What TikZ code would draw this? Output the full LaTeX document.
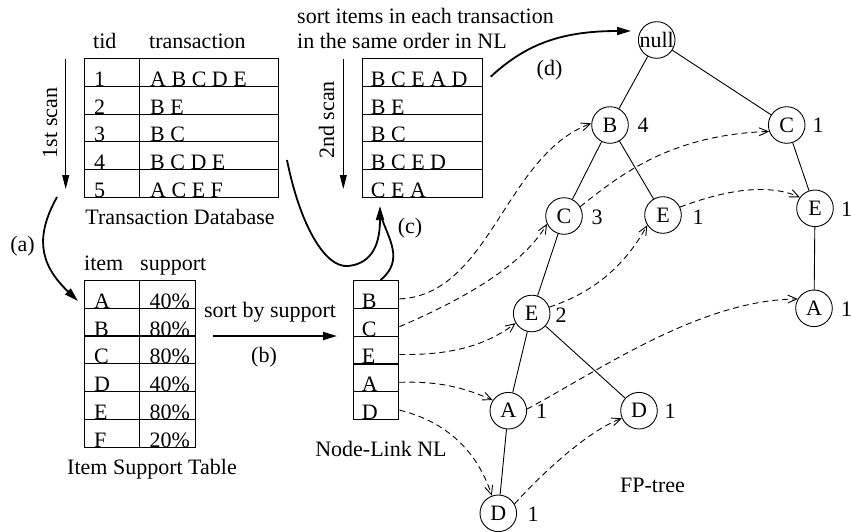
\documentclass[tikz,border=0pt]{standalone}
\usepackage{fontspec}
\setmainfont{Liberation Serif}
\usetikzlibrary{arrows.meta}
\tikzset{
  cell/.style={draw, rectangle, inner sep=0pt, minimum height=27.7pt, anchor=north west, line width=1.1pt},
  tn/.style={draw, circle, inner sep=0pt, minimum size=36.6pt, line width=0.9pt},
  edge/.style={line width=0.9pt},
  link/.style={line width=0.9pt, dash pattern=on 6pt off 4pt, -{Straight Barb[length=9pt,width=8pt]}},
  bigarrow/.style={line width=1.8pt, -{Triangle[length=14pt,width=8pt]}},
  scanarrow/.style={line width=0.9pt, -{Triangle[length=14pt,width=7pt]}},
}
\begin{document}
\begin{tikzpicture}[x=1pt,y=-1pt, every node/.append style={inner sep=0pt}, font=\fontsize{22}{26}\selectfont]
\useasboundingbox (0,0) rectangle (851,531);

% ---------- Transaction database ----------
\node[anchor=base west] (hd1) at (93,48) {tid};
\node[anchor=base west] (hd2) at (149,48) {transaction};
\foreach \a/\b [count=\i] in {1/A B C D E, 2/B E, 3/B C, 4/B C D E, 5/A C E F}{
  \node[cell, minimum width=55.3pt] (tdA\i) at (84,{58.3+27.68*(\i-1)}) {};
  \node[cell, minimum width=139pt] (tdB\i) at (139.3,{58.3+27.68*(\i-1)}) {};
  \node[anchor=base west] (tdAt\i) at ([xshift=10pt,yshift=0.5pt]tdA\i.south west) {\a};
  \node[anchor=base west] (tdBt\i) at ([xshift=10.7pt,yshift=0.5pt]tdB\i.south west) {\b};
}
\node[anchor=base] (tdcap) at (180,224) {Transaction Database};
\node[rotate=90] (scan1) at (50,123) {1st scan};
\coordinate (s1t) at (65.7,59);
\coordinate (s1b) at (65.7,189);
\draw[scanarrow] (s1t) -- (s1b);

% ---------- Sorted transactions ----------
\node[anchor=base west] (s1) at (297,23) {sort items in each transaction};
\node[anchor=base west] (s2) at (297,48) {in the same order in NL};
\foreach \b [count=\i] in {B C E A D, B E, B C, B C E D, C E A}{
  \node[cell, minimum width=120pt] (sd\i) at (361.7,{58.3+27.68*(\i-1)}) {};
  \node[anchor=base west] (sdt\i) at ([xshift=9pt,yshift=0.5pt]sd\i.south west) {\b};
}
\node[rotate=90] (scan2) at (326.7,120) {2nd scan};
\coordinate (s2t) at (343.3,59);
\coordinate (s2b) at (343.3,189);
\draw[scanarrow] (s2t) -- (s2b);

% ---------- Item support table ----------
\node[anchor=base west] (hi1) at (84,270) {item};
\node[anchor=base west] (hi2) at (140,270) {support};
\foreach \a/\b [count=\i] in {A/40\%, B/80\%, C/80\%, D/40\%, E/80\%, F/20\%}{
  \node[cell, minimum width=55.3pt] (itA\i) at (84,{280+27.78*(\i-1)}) {};
  \node[cell, minimum width=55.7pt] (itB\i) at (139.3,{280+27.78*(\i-1)}) {};
  \node[anchor=base west] (itAt\i) at ([xshift=10pt,yshift=0.5pt]itA\i.south west) {\a};
  \node[anchor=base west] (itBt\i) at ([xshift=10pt,yshift=0.5pt]itB\i.south west) {\b};
}
\node[anchor=base] (itcap) at (152,474) {Item Support Table};

% ---------- Node-Link NL ----------
\foreach \a [count=\i] in {B,C,E,A,D}{
  \node[cell, minimum width=45.6pt] (nl\i) at (352.7,{280+27.8*(\i-1)}) {};
  \node[anchor=base west] (nlt\i) at ([xshift=9pt,yshift=0.5pt]nl\i.south west) {\a};
}
\node[anchor=base] (nlcap) at (381,456) {Node-Link NL};

% ---------- process arrows ----------
\node (la) at (22.5,246.5) {(a)};
\coordinate (aS) at (57,197);
\coordinate (aE) at (78,301);
\draw[bigarrow] (aS) .. controls (36,235) and (38,263) .. (aE);

\node[anchor=base] (sbs) at (270,317) {sort by support};
\node (lb) at (264,357.5) {(b)};
\coordinate (bS) at (213,336);
\coordinate (bE) at (337,336);
\draw[bigarrow] (bS) -- (bE);

\node (lc) at (410,228) {(c)};
\coordinate (cS) at (287,160);
\coordinate (cM) at (348,266);
\coordinate (cE) at (380,206);
\coordinate (cJ) at (381,216);
\draw[bigarrow] (cS) .. controls (300,225) and (325,268) .. (cM) .. controls (368,264) and (380,250) .. (cE);
\draw[line width=1.8pt] ([xshift=4.5pt]nl1.north) .. controls (405,260) and (388,238) .. (cJ);

\node (ld) at (549.5,70.5) {(d)};
\coordinate (dS) at (490.7,76.7);
\coordinate (dE) at (631,31);
\draw[bigarrow] (dS) .. controls (525,45) and (560,31) .. (dE);

% ---------- FP-tree ----------
\node[tn] (null) at (656.7,40) {};
\node (nulltxt) at (null) {null};
\node[tn] (nB) at (610,125) {B};
\node (cntB) at (643,125) {4};
\node[tn] (nCr) at (786.7,125) {C};
\node (cntCr) at (818,125) {1};
\node[tn] (nC3) at (564,216) {C};
\node (cntC3) at (597,217) {3};
\node[tn] (nE1) at (663,215) {E};
\node (cntE1) at (698,217) {1};
\node[tn] (nEr) at (815,208.3) {E};
\node (cntEr) at (846.5,209) {1};
\node[tn] (nE2) at (531.7,313.5) {E};
\node (cntE2) at (561,315) {2};
\node[tn] (nAr) at (814,308.3) {A};
\node (cntAr) at (846.5,309) {1};
\node[tn] (nA1) at (508.3,410.7) {A};
\node (cntA1) at (541.7,411) {1};
\node[tn] (nD1) at (639,410.7) {D};
\node (cntD1) at (670,411) {1};
\node[tn] (nDb) at (498.3,513.3) {D};
\node (cntDb) at (533,514) {1};
\node[anchor=base] (fpcap) at (652.5,492) {FP-tree};

\draw[edge] (null) -- (nB);
\draw[edge] (null) -- (nCr);
\draw[edge] (nB) -- (nC3);
\draw[edge] (nB) -- (nE1);
\draw[edge] (nC3) -- (nE2);
\draw[edge] (nE2) -- (nA1);
\draw[edge] (nE2) -- (nD1);
\draw[edge] (nA1) -- (nDb);
\draw[edge] (nCr) -- (nEr);
\draw[edge] (nEr) -- (nAr);

% ---------- node links ----------
\draw[link] ([yshift=-4.5pt]nl1.east) .. controls (490,295) and (505,155) .. (nB.175);
\draw[link] ([yshift=-4.5pt]nl2.east) .. controls (450,305) and (520,270) .. (nC3.205);
\draw[link] ([yshift=-4.5pt]nl3.east) .. controls (440,355) and (480,350) .. (nE2.211);
\draw[link] ([yshift=-4.5pt]nl4.east) .. controls (440,381) and (465,388) .. (nA1.146);
\draw[link] ([yshift=-4.5pt]nl5.east) .. controls (440,420) and (475,445) .. (nDb.110);
\draw[link] (nC3.30) .. controls (620,175) and (670,135) .. (nCr.200);
\draw[link] (nE1.25) .. controls (720,192) and (765,182) .. (nEr.144);
\draw[link] (nE2.20) .. controls (595,292) and (625,265) .. (nE1.213);
\draw[link] (nA1.5) .. controls (600,370) and (700,300) .. (nAr.150);
\draw[link] (nDb.30) .. controls (545,470) and (590,430) .. (nD1.204);
\end{tikzpicture}
\end{document}
